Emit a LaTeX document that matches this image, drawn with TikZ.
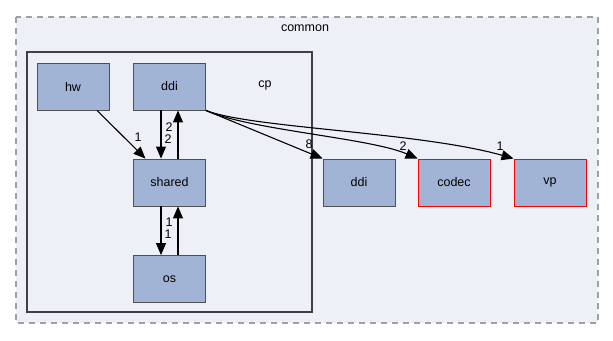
\documentclass[tikz,border=0pt]{standalone}
\usepackage{fontspec}
\setmainfont{Liberation Sans}
\usepackage{tikz}
\usetikzlibrary{arrows.meta}
\usetikzlibrary{positioning}

\definecolor{dirfill}{HTML}{A2B4D6}
\definecolor{dirline}{HTML}{505050}
\definecolor{clusterbg}{HTML}{EDF0F7}
\definecolor{clusterdash}{HTML}{A0A0A0}
\definecolor{cpline}{HTML}{404040}

\begin{document}
\begin{tikzpicture}[x=1pt, y=-1pt,
d/.style={rectangle, draw=dirline, fill=dirfill, line width=0.9pt, minimum width=72pt, minimum height=47pt, inner sep=0pt, font=\fontsize{12.5}{15}\selectfont},
bad/.style={d, draw=red},
lbl/.style={inner sep=0pt, font=\fontsize{12.5}{15}\selectfont},
dep/.style={-{Triangle[length=12pt, width=10pt]}, line width=1.1pt}]
\useasboundingbox (0,0) rectangle (613,340);
% clusters
\draw[clusterdash, fill=clusterbg, line width=1.3pt, dash pattern=on 6pt off 5pt] (16,17) rectangle (598,323);
\node[lbl] (common) at (305,28) {common};
\draw[cpline, line width=2.4pt] (27,52) rectangle (312,312);
\node[lbl] (cp) at (265,85) {cp};
% directories
\node[d] (hw) at (73,86.5) {hw};
\node[d] (cpddi) at (169.5,86.5) {ddi};
\node[d] (shared) at (169.5,182.5) {shared};
\node[d] (os) at (169.5,279) {os};
\node[d] (ddi) at (359,182.5) {ddi};
\node[bad] (codec) at (454,182.5) {codec};
\node[bad] (vp) at (550,182.5) {vp};
% dependencies
\draw[dep] (hw) to (shared);
\draw[dep] ([xshift=-8.5pt]cpddi.south) to ([xshift=-8.5pt]shared.north);
\draw[dep] ([xshift=8.5pt]shared.north) to ([xshift=8.5pt]cpddi.south);
\draw[dep] ([xshift=-8.5pt]shared.south) to ([xshift=-8.5pt]os.north);
\draw[dep] ([xshift=8.5pt]os.north) to ([xshift=8.5pt]shared.south);
\draw[dep] (cpddi.south east) to (ddi.north west);
\draw[dep] (cpddi.south east) .. controls (250,130) and (370,138) .. (codec.north west);
\draw[dep] (cpddi.south east) .. controls (250,128) and (420,132) .. (vp.north west);
% counts
\node[lbl] (n1) at (138,137) {1};
\node[lbl] (n2) at (169,127) {2};
\node[lbl] (n3) at (168,139) {2};
\node[lbl] (n4) at (169,222) {1};
\node[lbl] (n5) at (168,234) {1};
\node[lbl] (n6) at (309,144) {8};
\node[lbl] (n7) at (403,146) {2};
\node[lbl] (n8) at (500,146) {1};
\end{tikzpicture}
\end{document}
